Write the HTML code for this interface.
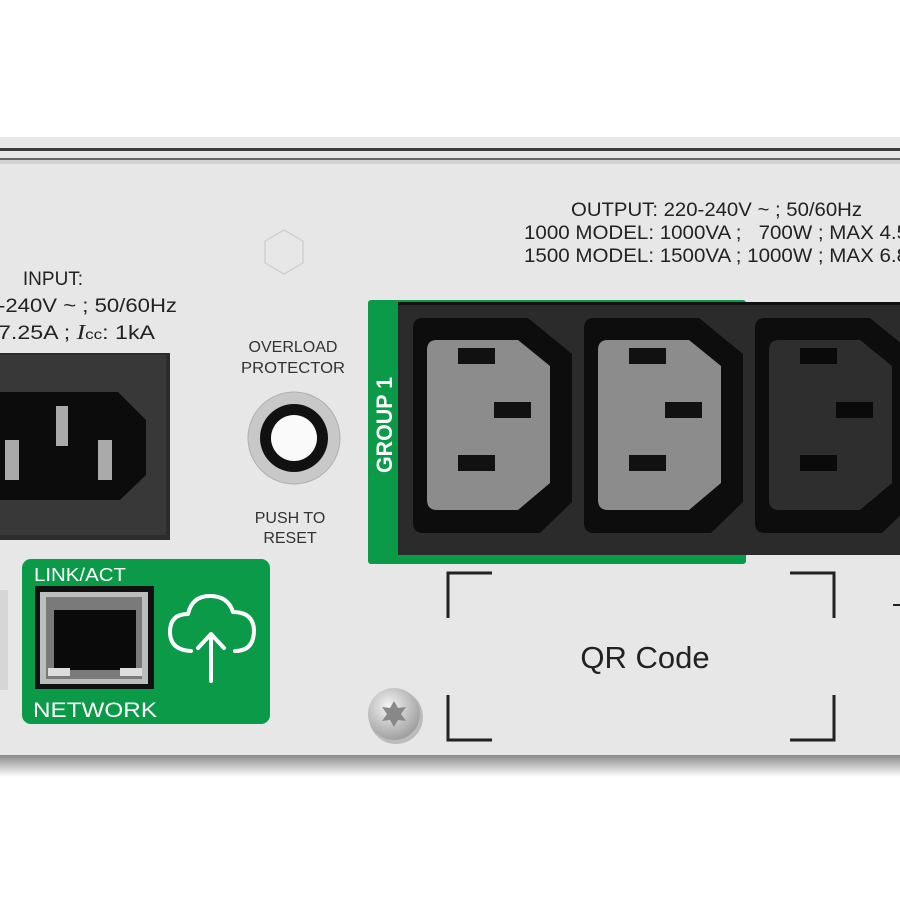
<!DOCTYPE html>
<html><head><style>
html,body{margin:0;padding:0;background:#fff;}
svg{display:block;}
text{font-family:"Liberation Sans",sans-serif;white-space:pre;}
</style></head><body>
<svg width="900" height="900" viewBox="0 0 900 900" xmlns="http://www.w3.org/2000/svg">
<defs>
<linearGradient id="sh" x1="0" y1="0" x2="0" y2="1"><stop offset="0" stop-color="#8a8a8a"/><stop offset="1" stop-color="#fff"/></linearGradient>
<radialGradient id="scr" cx="0.4" cy="0.35" r="0.7"><stop offset="0" stop-color="#f4f4f4"/><stop offset="1" stop-color="#9a9a9a"/></radialGradient>
</defs>
<rect width="900" height="900" fill="#fff"/>
<rect x="0" y="137" width="900" height="618" fill="#e7e7e7"/>
<rect x="0" y="148" width="900" height="3" fill="#3a3a3a"/>
<rect x="0" y="158" width="900" height="2" fill="#666"/>
<rect x="0" y="160" width="900" height="4" fill="#d2d2d2"/>
<rect x="0" y="755" width="900" height="22" fill="url(#sh)"/>
<!-- input text -->
<text x="53" y="285" font-size="19" fill="#222" text-anchor="middle">INPUT:</text>
<text x="-2" y="312" font-size="19" fill="#222" textLength="179" lengthAdjust="spacingAndGlyphs">-240V ~ ; 50/60Hz</text>
<text x="-2" y="339" font-size="19" fill="#222" textLength="157" lengthAdjust="spacingAndGlyphs">7.25A ; <tspan font-family="Liberation Serif" font-style="italic" font-size="21">I</tspan><tspan font-size="14">cc</tspan>: 1kA</text>
<!-- input socket -->
<rect x="0" y="353" width="170" height="187" fill="#2c2c2c"/>
<rect x="0" y="355" width="166" height="180" fill="#383838"/>
<path d="M0 392 H118 L146 420 V475 L120 500 H0 Z" fill="#0c0c0c"/>
<rect x="56" y="406" width="12" height="40" fill="#aaa"/>
<rect x="5" y="440" width="14" height="40" fill="#aaa"/>
<rect x="98" y="440" width="14" height="40" fill="#aaa"/>
<!-- hexagon -->
<polygon points="284,230 303,241 303,263 284,274 265,263 265,241" fill="none" stroke="#d0d0d0" stroke-width="1.5"/>
<!-- overload -->
<text x="293" y="352" font-size="16" fill="#333" text-anchor="middle">OVERLOAD</text>
<text x="293" y="373" font-size="16" fill="#333" text-anchor="middle" textLength="104" lengthAdjust="spacingAndGlyphs">PROTECTOR</text>
<circle cx="294" cy="438" r="46" fill="#c8c8c8" stroke="#b0b0b0"/>
<circle cx="294" cy="438" r="34" fill="#111"/>
<circle cx="294" cy="438" r="23" fill="#fafafa"/>
<text x="290" y="523" font-size="16" fill="#333" text-anchor="middle">PUSH TO</text>
<text x="290" y="543" font-size="16" fill="#333" text-anchor="middle">RESET</text>
<!-- output text -->
<text x="571" y="216" font-size="19" fill="#222" textLength="291" lengthAdjust="spacingAndGlyphs">OUTPUT: 220-240V ~ ; 50/60Hz</text>
<text x="524" y="239" font-size="19" fill="#222" textLength="384" lengthAdjust="spacingAndGlyphs">1000 MODEL: 1000VA ;   700W ; MAX 4.5</text>
<text x="524" y="262" font-size="19" fill="#222" textLength="384" lengthAdjust="spacingAndGlyphs">1500 MODEL: 1500VA ; 1000W ; MAX 6.8</text>
<!-- group -->
<rect x="368" y="300" width="378" height="264" rx="3" fill="#0a9a48"/>
<rect x="398" y="302" width="502" height="253" fill="#2b2b2b"/>
<rect x="398" y="302" width="502" height="3" fill="#111"/>
<text transform="translate(392,425) rotate(-90)" font-size="22" font-weight="bold" fill="#fff" text-anchor="middle" textLength="96" lengthAdjust="spacingAndGlyphs">GROUP 1</text>
<g id="o1">
<path d="M423 318 H528 L572 354 V502 L540 533 H423 Q413 533 413 523 V328 Q413 318 423 318 Z" fill="#0d0d0d"/>
<path d="M437 340 H518 L550 366 V483 L518 510 H437 Q427 510 427 500 V350 Q427 340 437 340 Z" fill="#8c8c8c"/>
<rect x="458" y="348" width="37" height="16" fill="#111"/>
<rect x="494" y="402" width="37" height="16" fill="#111"/>
<rect x="458" y="455" width="37" height="16" fill="#111"/>
</g>
<use href="#o1" x="171"/>
<g transform="translate(342,0)">
<path d="M423 318 H528 L572 354 V502 L540 533 H423 Q413 533 413 523 V328 Q413 318 423 318 Z" fill="#0d0d0d"/>
<path d="M437 340 H518 L550 366 V483 L518 510 H437 Q427 510 427 500 V350 Q427 340 437 340 Z" fill="#2e2e2e"/>
<rect x="458" y="348" width="37" height="16" fill="#0a0a0a"/>
<rect x="494" y="402" width="37" height="16" fill="#0a0a0a"/>
<rect x="458" y="455" width="37" height="16" fill="#0a0a0a"/>
</g>
<!-- QR -->
<g fill="none" stroke="#222" stroke-width="3">
<path d="M448 618 V573 H492"/>
<path d="M790 573 H834 V618"/>
<path d="M448 695 V740 H492"/>
<path d="M790 740 H834 V695"/>
</g>
<text x="645" y="668" font-size="31" fill="#222" text-anchor="middle">QR Code</text>
<path d="M893 605 h7" stroke="#222" stroke-width="2"/>
<!-- screw -->
<circle cx="396" cy="717" r="27" fill="#bcbcbc"/>
<circle cx="394" cy="714" r="26" fill="url(#scr)"/>
<polygon points="394,701 398,708 406,707 401,714 406,721 398,720 394,727 390,720 382,721 387,714 382,707 390,708" fill="#888"/>
<!-- network -->
<rect x="0" y="590" width="8" height="100" fill="#d6d6d6"/>
<rect x="22" y="559" width="248" height="165" rx="9" fill="#0a9a48"/>
<text x="34" y="581" font-size="18" fill="#fff" textLength="92" lengthAdjust="spacingAndGlyphs">LINK/ACT</text>
<text x="33" y="717" font-size="21" fill="#fff" textLength="124" lengthAdjust="spacingAndGlyphs">NETWORK</text>
<rect x="35" y="586" width="119" height="103" fill="#111"/>
<rect x="40" y="592" width="108" height="92" fill="#bdbdbd"/>
<rect x="46" y="597" width="96" height="82" fill="#7a7a7a"/>
<rect x="54" y="610" width="82" height="60" fill="#0a0a0a"/>
<rect x="48" y="668" width="22" height="8" fill="#ddd"/>
<rect x="120" y="668" width="22" height="8" fill="#ddd"/>
<g fill="none" stroke="#fff" stroke-width="4" stroke-linecap="round" stroke-linejoin="round">
<path d="M191 651 Q170 650 170 632 Q170 614 188 614 Q192 596 210 596 Q228 596 233 612 Q253 612 254 630 Q254 651 235 651"/>
<path d="M211 681 V634 M198 648 L211 634 L224 648"/>
</g>
</svg>
</body></html>
